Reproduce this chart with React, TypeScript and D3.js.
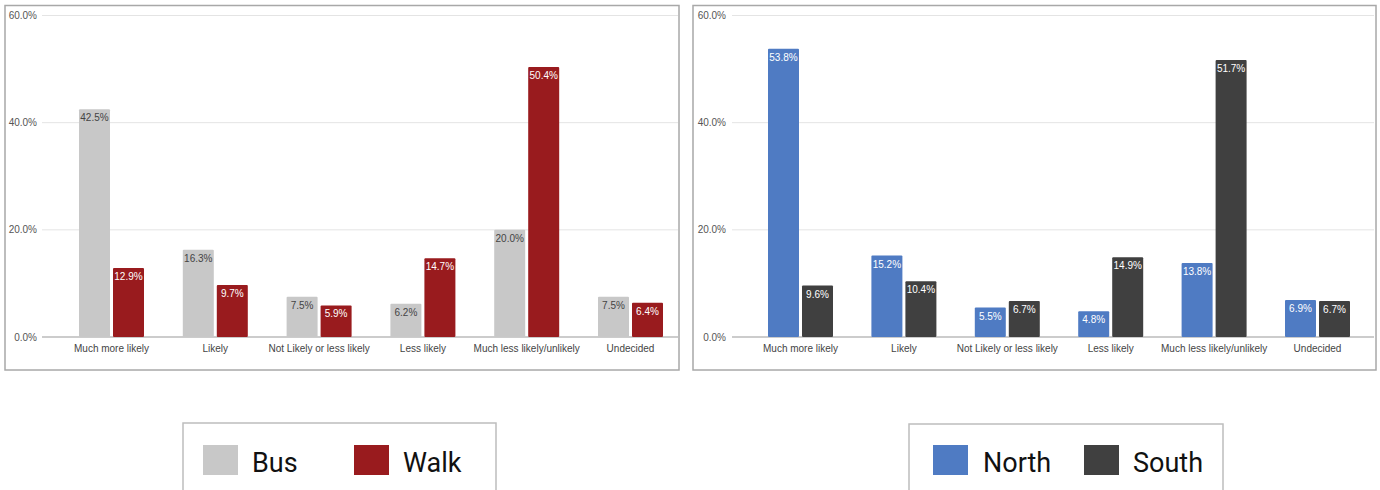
import React from "react";
import * as d3 from "d3";

// Survey response categories shared by both panels
const categories = [
  "Much more likely",
  "Likely",
  "Not Likely or less likely",
  "Less likely",
  "Much less likely/unlikely",
  "Undecided",
];

// Left panel: mode of travel
const busValues = [42.5, 16.3, 7.5, 6.2, 20.0, 7.5];
const walkValues = [12.9, 9.7, 5.9, 14.7, 50.4, 6.4];

// Right panel: region
const northValues = [53.8, 15.2, 5.5, 4.8, 13.8, 6.9];
const southValues = [9.6, 10.4, 6.7, 14.9, 51.7, 6.7];

const yTicks = [0, 20, 40, 60];

const AXIS_FONT = "'Liberation Sans', Arial, sans-serif";
const LEGEND_FONT = "Roboto, 'Noto Sans', sans-serif";

type Series = { name: string; values: number[]; color: string; labelColor: string };

type PanelProps = {
  box: [number, number, number, number]; // x, y, w, h of the frame
  gridX: [number, number];
  tickRight: number;
  bandRange: [number, number];
  series: Series[];
};

const y = d3.scaleLinear().domain([0, 60]).range([337, 15.5]);
const fmt = (v: number) => `${v.toFixed(1)}%`;

function Panel({ box, gridX, tickRight, bandRange, series }: PanelProps) {
  const x0 = d3.scaleBand<string>().domain(categories).range(bandRange);
  const groupW = 65;
  const x1 = d3
    .scaleBand<string>()
    .domain(series.map((s) => s.name))
    .range([0, groupW])
    .paddingInner(3 / 34);
  const offset = (x0.bandwidth() - groupW) / 2;

  return (
    <g>
      <rect
        x={box[0]}
        y={box[1]}
        width={box[2]}
        height={box[3]}
        fill="#fff"
        stroke="#a8a8a8"
        strokeWidth={1.5}
      />
      {yTicks.map((t) => (
        <g key={t}>
          <line
            x1={gridX[0]}
            x2={gridX[1]}
            y1={y(t)}
            y2={y(t)}
            stroke={t === 0 ? "#9a9a9a" : "#e4e4e4"}
            strokeWidth={t === 0 ? 1.2 : 1}
          />
          <text
            x={tickRight}
            y={y(t) + 3.5}
            textAnchor="end"
            fontSize={10}
            fill="#555"
            fontFamily={AXIS_FONT}
          >
            {fmt(t)}
          </text>
        </g>
      ))}
      {categories.map((c, i) => (
        <g key={c}>
          {series.map((s) => {
            const v = s.values[i];
            const bx = (x0(c) ?? 0) + offset + (x1(s.name) ?? 0);
            const by = y(v);
            return (
              <g key={s.name}>
                <rect
                  x={bx}
                  y={by}
                  width={x1.bandwidth()}
                  height={y(0) - by}
                  fill={s.color}
                  rx={1}
                />
                <text
                  x={bx + x1.bandwidth() / 2}
                  y={by + 12}
                  textAnchor="middle"
                  fontSize={10}
                  fill={s.labelColor}
                  fontFamily={AXIS_FONT}
                >
                  {fmt(v)}
                </text>
              </g>
            );
          })}
          <text
            x={(x0(c) ?? 0) + x0.bandwidth() / 2}
            y={352}
            textAnchor="middle"
            fontSize={10}
            fill="#444"
            fontFamily={AXIS_FONT}
          >
            {c}
          </text>
        </g>
      ))}
    </g>
  );
}

type LegendProps = {
  box: [number, number, number];
  items: { name: string; color: string; swatchX: number; textX: number }[];
};

function Legend({ box, items }: LegendProps) {
  return (
    <g>
      <rect
        x={box[0]}
        y={box[1]}
        width={box[2]}
        height={100}
        fill="#fff"
        stroke="#bdbdbd"
        strokeWidth={1.5}
      />
      {items.map((it) => (
        <g key={it.name}>
          <rect x={it.swatchX} y={445} width={35} height={30} fill={it.color} />
          <text
            x={it.textX}
            y={472}
            fontSize={27}
            fill="#111"
            fontFamily={LEGEND_FONT}
          >
            {it.name}
          </text>
        </g>
      ))}
    </g>
  );
}

export default function App() {
  const bus = "#c8c8c8";
  const walk = "#991b1e";
  const north = "#4f7bc3";
  const south = "#404040";
  return (
    <svg
      width={1380}
      height={490}
      style={{ position: "absolute", left: 0, top: 0, background: "#fff" }}
    >
      <Panel
        box={[5, 5.5, 674, 364.5]}
        gridX={[42, 678]}
        tickRight={37}
        bandRange={[59.6, 682.4]}
        series={[
          { name: "Bus", values: busValues, color: bus, labelColor: "#444" },
          { name: "Walk", values: walkValues, color: walk, labelColor: "#fff" },
        ]}
      />
      <Panel
        box={[693, 5.5, 683, 364.5]}
        gridX={[732, 1374]}
        tickRight={726}
        bandRange={[748.8, 1369.2]}
        series={[
          { name: "North", values: northValues, color: north, labelColor: "#fff" },
          { name: "South", values: southValues, color: south, labelColor: "#fff" },
        ]}
      />
      <Legend
        box={[183, 423, 313]}
        items={[
          { name: "Bus", color: bus, swatchX: 203, textX: 252 },
          { name: "Walk", color: walk, swatchX: 354, textX: 403 },
        ]}
      />
      <Legend
        box={[909, 424, 314]}
        items={[
          { name: "North", color: north, swatchX: 933, textX: 983 },
          { name: "South", color: south, swatchX: 1084, textX: 1133 },
        ]}
      />
    </svg>
  );
}
